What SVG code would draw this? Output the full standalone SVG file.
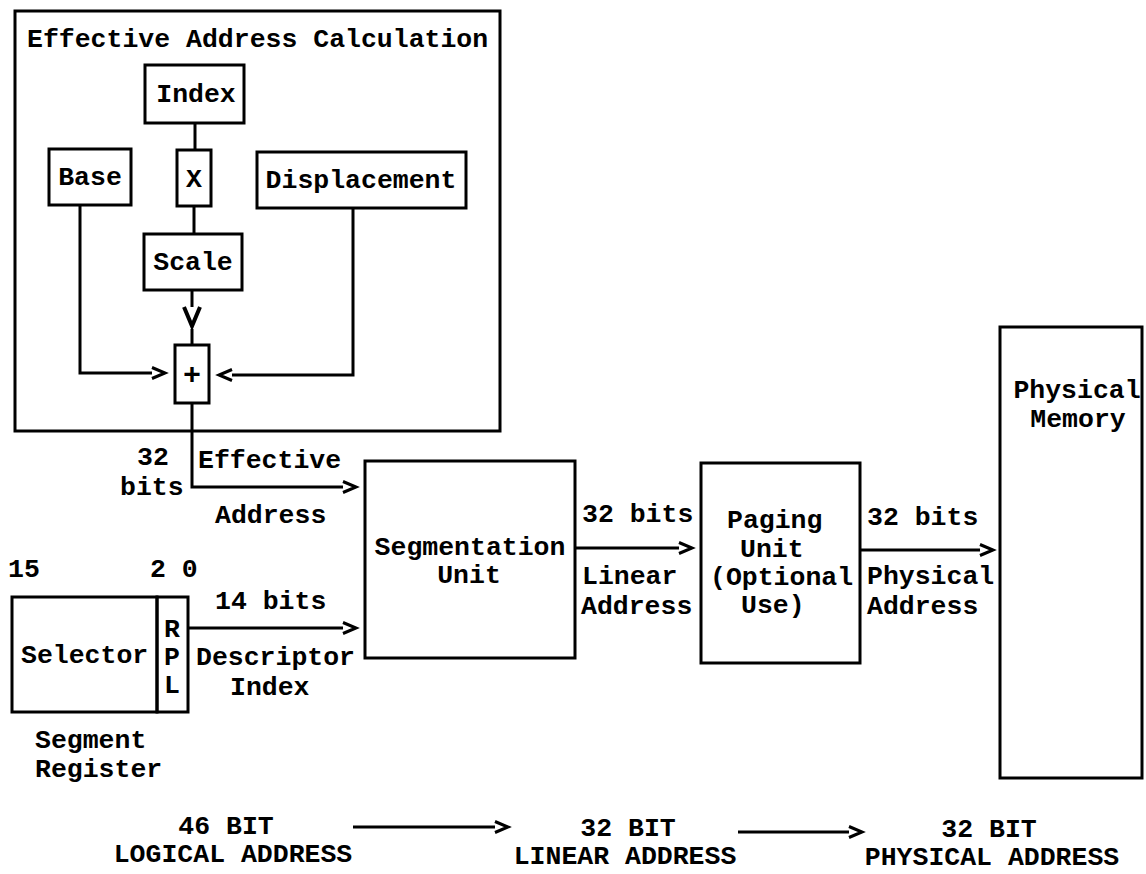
<svg xmlns="http://www.w3.org/2000/svg" width="1146" height="874" viewBox="0 0 1146 874">
<style>
text{font-family:"Liberation Mono","DejaVu Sans Mono",monospace;font-weight:bold;font-size:26.5px;fill:#000}
.m{text-anchor:middle}
.box{fill:none;stroke:#000;stroke-width:3}
.ln{fill:none;stroke:#000;stroke-width:3}
</style>
<defs>
<marker id="chev" viewBox="0 0 14 12" refX="0" refY="6" markerWidth="14" markerHeight="12" markerUnits="userSpaceOnUse" orient="auto" overflow="visible">
<path d="M0,0.5 L13,6 L0,11.5" fill="none" stroke="#000" stroke-width="3"/>
</marker>
<marker id="chevV" viewBox="0 0 20 18" refX="0" refY="9" markerWidth="20" markerHeight="18" markerUnits="userSpaceOnUse" orient="auto" overflow="visible">
<path d="M0,1 L19,9 L0,17" fill="none" stroke="#000" stroke-width="4"/>
</marker>
</defs>
<rect width="1146" height="874" fill="#fff"/>

<g id="eac">
<rect class="box" x="15" y="11" width="485" height="420"/>
<text x="27" y="47">Effective Address Calculation</text>
</g>
<g id="index"><rect class="box" x="145" y="65" width="99" height="58"/><text class="m" x="196" y="102">Index</text></g>
<g id="x"><rect class="box" x="177" y="150" width="34" height="56"/><text class="m" x="194" y="187">X</text></g>
<g id="base"><rect class="box" x="49" y="149" width="82" height="56"/><text class="m" x="90" y="185">Base</text></g>
<g id="displacement"><rect class="box" x="257" y="152" width="209" height="56"/><text class="m" x="361" y="188">Displacement</text></g>
<g id="scale"><rect class="box" x="144" y="234" width="98" height="56"/><text class="m" x="193" y="270">Scale</text></g>
<g id="plus"><rect class="box" x="175" y="345" width="34" height="58"/><text class="m" x="192" y="384" style="font-size:30px">+</text></g>

<g id="segment-register">
<rect class="box" x="12" y="597" width="145" height="115"/>
<rect class="box" x="157" y="597" width="31" height="115"/>
<text x="21" y="663">Selector</text>
<text class="m" x="172" y="637">R</text>
<text class="m" x="172" y="665">P</text>
<text class="m" x="172" y="693">L</text>
<text x="8" y="577">15</text>
<text x="150" y="577">2 0</text>
<text x="35" y="748">Segment</text>
<text x="35" y="777">Register</text>
</g>

<g id="segmentation-unit">
<rect class="box" x="365" y="461" width="210" height="197"/>
<text class="m" x="470" y="555">Segmentation</text>
<text class="m" x="469" y="583">Unit</text>
</g>

<g id="paging-unit">
<rect class="box" x="701" y="463" width="159" height="200"/>
<text x="727" y="528">Paging</text>
<text x="740" y="557">Unit</text>
<text x="710" y="585">(Optional</text>
<text x="741" y="613">Use)</text>
</g>

<g id="physical-memory">
<rect class="box" x="1000" y="327" width="142" height="451"/>
<text class="m" x="1077" y="398">Physical</text>
<text class="m" x="1078" y="427">Memory</text>
</g>

<g id="connectors">
<path class="ln" d="M195,123 V150"/>
<path class="ln" d="M194,206 V234"/>
<path class="ln" d="M192,290 V307" marker-end="url(#chevV)"/>
<path class="ln" d="M192,329 V345"/>
<path class="ln" d="M80,205 V373 H152" marker-end="url(#chev)"/>
<path class="ln" d="M353,208 V375 H232" marker-end="url(#chev)"/>
<path class="ln" d="M192,403 V487 H343" marker-end="url(#chev)"/>
<path class="ln" d="M188,628 H343" marker-end="url(#chev)"/>
<path class="ln" d="M575,548 H679" marker-end="url(#chev)"/>
<path class="ln" d="M860,550 H980" marker-end="url(#chev)"/>
<path class="ln" d="M353,827 H495" marker-end="url(#chev)"/>
<path class="ln" d="M738,832 H849" marker-end="url(#chev)"/>
</g>

<g id="labels">
<text x="137" y="465">32</text>
<text x="120" y="495">bits</text>
<text x="198" y="468">Effective</text>
<text x="215" y="523">Address</text>
<text x="215" y="609">14 bits</text>
<text x="196" y="665">Descriptor</text>
<text x="230" y="695">Index</text>
<text x="582" y="522">32 bits</text>
<text x="582" y="584">Linear</text>
<text x="581" y="614">Address</text>
<text x="867" y="525">32 bits</text>
<text x="867" y="584">Physical</text>
<text x="867" y="614">Address</text>
<text class="m" x="226" y="834">46 BIT</text>
<text class="m" x="233" y="862">LOGICAL ADDRESS</text>
<text class="m" x="628" y="836">32 BIT</text>
<text class="m" x="625" y="864">LINEAR ADDRESS</text>
<text class="m" x="989" y="837">32 BIT</text>
<text class="m" x="992" y="865">PHYSICAL ADDRESS</text>
</g>
</svg>
